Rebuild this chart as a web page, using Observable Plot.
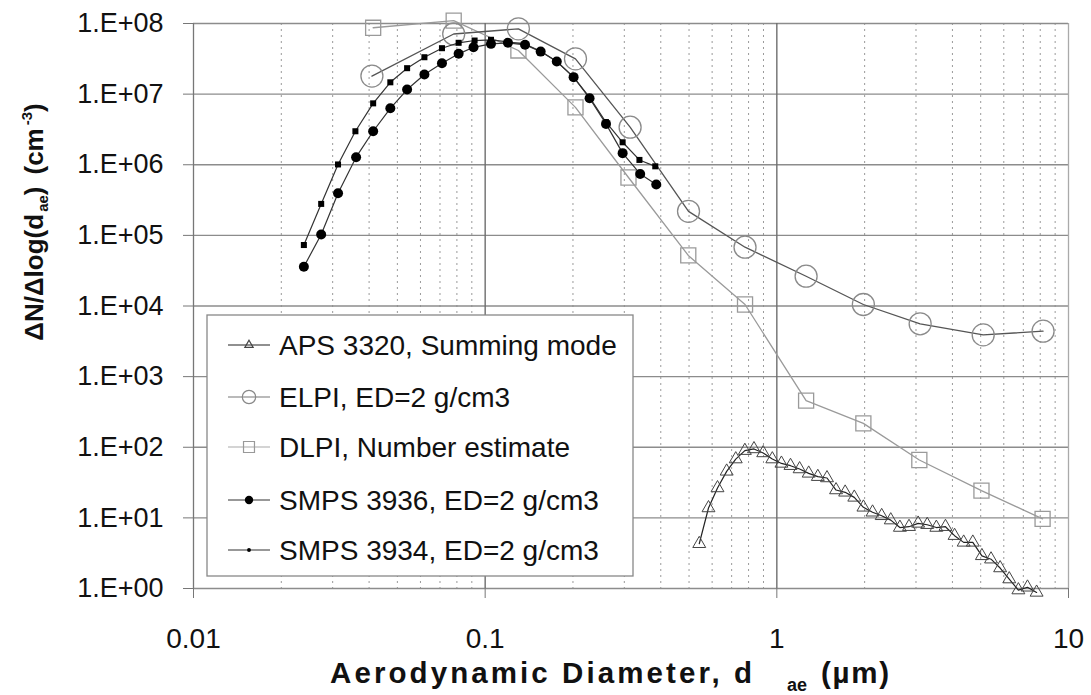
<!DOCTYPE html>
<html>
<head>
<meta charset="utf-8">
<script src="https://cdn.jsdelivr.net/npm/d3@7"></script>
<script src="https://cdn.jsdelivr.net/npm/@observablehq/plot@0.6"></script>
<style>
  html, body { margin: 0; padding: 0; background: white; }
  #chart { position: relative; width: 1091px; height: 695px; }
</style>
</head>
<body>
<div id="chart"></div>
<script>
// ---- Data ----
const apsX = [0.542, 0.583, 0.626, 0.673, 0.723, 0.777, 0.835, 0.898, 0.965, 1.037, 1.114, 1.197, 1.286, 1.382, 1.486, 1.596, 1.715, 1.843, 1.981, 2.129, 2.288, 2.458, 2.642, 2.839, 3.051, 3.278, 3.523, 3.786, 4.068, 4.371, 4.698, 5.048, 5.425, 5.829, 6.264, 6.732, 7.234, 7.774];
const apsY = [4.3, 13.8, 26.5, 45.6, 68, 89.5, 94.6, 83, 68, 59, 54.8, 49.2, 42.7, 38.3, 36.7, 24.8, 23, 19.5, 14.1, 12.0, 10.7, 9.3, 7.3, 7.5, 8.35, 8.0, 7.3, 7.5, 5.6, 4.5, 4.5, 2.9, 2.6, 1.95, 1.36, 0.95, 1.04, 0.88];

const elpiX = [0.0409, 0.078, 0.130, 0.204, 0.314, 0.498, 0.778, 1.26, 1.98, 3.10, 5.10, 8.18];
const elpiY = [1.8e7, 7.1e7, 8.4e7, 3.16e7, 3.4e6, 2.19e5, 6.8e4, 2.64e4, 1.05e4, 5.6e3, 3.9e3, 4.4e3];

const dlpiX = [0.0413, 0.078, 0.130, 0.204, 0.310, 0.497, 0.778, 1.26, 1.98, 3.08, 5.03, 8.15];
const dlpiY = [8.7e7, 1.1e8, 4.15e7, 6.5e6, 6.6e5, 5.2e4, 1.05e4, 457, 218, 66, 24.3, 9.7];

const smps3936X = [0.0239, 0.0274, 0.0313, 0.0361, 0.0413, 0.0473, 0.054, 0.0619, 0.0711, 0.0811, 0.0912, 0.1047, 0.1197, 0.137, 0.155, 0.176, 0.201, 0.228, 0.2596, 0.296, 0.34, 0.386];
const smps3936Y = [3.6e4, 1.03e5, 3.95e5, 1.28e6, 2.98e6, 6.3e6, 1.16e7, 1.9e7, 2.74e7, 3.72e7, 4.6e7, 5.15e7, 5.33e7, 4.99e7, 4.0e7, 2.9e7, 1.74e7, 8.75e6, 3.79e6, 1.46e6, 7.4e5, 5.25e5];

const smps3934X = [0.0239, 0.0274, 0.0313, 0.0359, 0.0413, 0.0473, 0.054, 0.0619, 0.0711, 0.0811, 0.092, 0.1047, 0.1197, 0.137, 0.155, 0.176, 0.201, 0.228, 0.2596, 0.296, 0.338, 0.383];
const smps3934Y = [7.3e4, 2.79e5, 1.01e6, 2.98e6, 7.4e6, 1.47e7, 2.33e7, 3.33e7, 4.47e7, 5.33e7, 5.74e7, 5.88e7, 5.5e7, 5.1e7, 4.05e7, 2.9e7, 1.74e7, 9.0e6, 4.0e6, 2.08e6, 1.17e6, 9.5e5];

const seriesNames = ["APS 3320, Summing mode", "ELPI, ED=2 g/cm3", "DLPI, Number estimate", "SMPS 3936, ED=2 g/cm3", "SMPS 3934, ED=2 g/cm3"];

const xTicks = [0.01, 0.1, 1, 10];
const xTickLabels = ["0.01", "0.1", "1", "10"];
const yTicks = [1, 10, 100, 1e3, 1e4, 1e5, 1e6, 1e7, 1e8];
const yTickLabels = ["1.E+00", "1.E+01", "1.E+02", "1.E+03", "1.E+04", "1.E+05", "1.E+06", "1.E+07", "1.E+08"];
const xMinor = [0.02,0.03,0.04,0.05,0.06,0.07,0.08,0.09, 0.2,0.3,0.4,0.5,0.6,0.7,0.8,0.9, 2,3,4,5,6,7,8,9];

// ---- build tables ----
const toRows = (xs, ys) => xs.map((x, i) => ({x, y: ys[i]}));
const aps = toRows(apsX, apsY);
const elpi = toRows(elpiX, elpiY);
const dlpi = toRows(dlpiX, dlpiY);
const s36 = toRows(smps3936X, smps3936Y);
const s34 = toRows(smps3934X, smps3934Y);

const FONT = "'Liberation Sans', Arial, Helvetica, sans-serif";

const plot = Plot.plot({
  width: 1091,
  height: 695,
  marginLeft: 193,
  marginRight: 23,
  marginTop: 23,
  marginBottom: 107,
  style: {fontFamily: FONT, background: "white", color: "black", overflow: "visible"},
  x: {type: "log", domain: [0.01, 10], label: null},
  y: {type: "log", domain: [1, 1e8], label: null},
  marks: [
    Plot.ruleX(xMinor, {stroke: "#9a9a9a", strokeWidth: 1, strokeDasharray: "2,4"}),
    Plot.ruleY(yTicks, {stroke: "#8c8c8c", strokeWidth: 1.3}),
    Plot.ruleX([0.1, 1], {stroke: "#6e6e6e", strokeWidth: 1.4}),
    Plot.ruleX([0.01], {stroke: "#777", strokeWidth: 1.3}),
    Plot.ruleX([10], {stroke: "#aaa", strokeWidth: 1.3}),
    Plot.axisX(xTicks, {
      tickFormat: d => xTickLabels[xTicks.indexOf(d)],
      tickSize: 10, tickPadding: 30, fontSize: 28, stroke: "#777", fill: "#111", label: null
    }),
    Plot.axisY(yTicks, {
      tickFormat: d => yTickLabels[yTicks.indexOf(d)],
      tickSize: 10, tickPadding: 20, fontSize: 27, stroke: "#777", fill: "#111", label: null
    }),
    // DLPI
    Plot.line(dlpi, {x: "x", y: "y", stroke: "#9a9a9a", strokeWidth: 1.3}),
    Plot.dot(dlpi, {x: "x", y: "y", symbol: "square", r: 8.5, stroke: "#9a9a9a", fill: "none", strokeWidth: 1.3}),
    // ELPI
    Plot.line(elpi, {x: "x", y: "y", stroke: "#555", strokeWidth: 1.3}),
    Plot.dot(elpi, {x: "x", y: "y", symbol: "circle", r: 11, stroke: "#8a8a8a", fill: "none", strokeWidth: 1.3}),
    // APS
    Plot.line(aps, {x: "x", y: "y", stroke: "#222", strokeWidth: 1.2}),
    Plot.dot(aps, {x: "x", y: "y", symbol: "triangle", r: 4.8, stroke: "#444", fill: "none", strokeWidth: 1}),
    // SMPS 3934
    Plot.line(s34, {x: "x", y: "y", stroke: "#333", strokeWidth: 1.2}),
    Plot.dot(s34, {x: "x", y: "y", symbol: "square", r: 3.4, fill: "#000", stroke: "none"}),
    // SMPS 3936
    Plot.line(s36, {x: "x", y: "y", stroke: "#333", strokeWidth: 1.2}),
    Plot.dot(s36, {x: "x", y: "y", symbol: "circle", r: 5, fill: "#000", stroke: "none"})
  ]
});

document.getElementById("chart").appendChild(plot);

// ---- legend, axis titles ----
const svg = d3.select(plot);
const lg = svg.append("g").attr("text-anchor", "start");
lg.append("rect")
  .attr("x", 207).attr("y", 315).attr("width", 426).attr("height", 261)
  .attr("fill", "white").attr("stroke", "#888").attr("stroke-width", 1.3);

const rowsY = [345, 397, 447, 500, 550];
const legendStyle = [
  {line: "#222", type: d3.symbolTriangle, size: 30, fill: "none", stroke: "#444"},
  {line: "#777", type: d3.symbolCircle, size: 140, fill: "none", stroke: "#888"},
  {line: "#aaa", type: d3.symbolSquare, size: 120, fill: "none", stroke: "#999"},
  {line: "#333", type: d3.symbolCircle, size: 55, fill: "#000", stroke: "none"},
  {line: "#333", type: d3.symbolCircle, size: 12, fill: "#000", stroke: "none"}
];
seriesNames.forEach((name, i) => {
  const cy = rowsY[i], st = legendStyle[i];
  lg.append("line").attr("x1", 228).attr("x2", 270).attr("y1", cy).attr("y2", cy)
    .attr("stroke", st.line).attr("stroke-width", 1.2);
  lg.append("path").attr("d", d3.symbol().type(st.type).size(st.size)())
    .attr("transform", `translate(249,${cy})`)
    .attr("fill", st.fill).attr("stroke", st.stroke).attr("stroke-width", 1.2);
  lg.append("text").attr("x", 279).attr("y", cy + 10).attr("text-anchor", "start")
    .attr("font-size", 28).attr("font-family", FONT).attr("fill", "#111")
    .text(name);
});

// x title
const xt = svg.append("g").attr("font-family", FONT).attr("font-weight", "bold")
  .attr("fill", "#111").attr("text-anchor", "start");
xt.append("text").attr("x", 330).attr("y", 683).attr("font-size", 29.5)
  .attr("textLength", 422).attr("lengthAdjust", "spacing")
  .text("Aerodynamic Diameter, d");
xt.append("text").attr("x", 787).attr("y", 691).attr("font-size", 18).text("ae");
xt.append("text").attr("x", 821).attr("y", 683).attr("font-size", 29.5)
  .attr("textLength", 68).attr("lengthAdjust", "spacing").text("(µm)");

// y title
const yt = svg.append("text")
  .attr("transform", "translate(43,222) rotate(-90)")
  .attr("text-anchor", "middle")
  .attr("font-family", FONT).attr("font-weight", "bold").attr("font-size", 26).attr("fill", "#111");
yt.append("tspan").text("ΔN/Δlog(d");
yt.append("tspan").attr("font-size", 15).attr("dy", 5).attr("dx", 2).text("ae");
yt.append("tspan").attr("dy", -5).text(")");
yt.append("tspan").attr("dx", 12).text("(cm");
yt.append("tspan").attr("font-size", 15).attr("dy", -11).attr("dx", 3).text("-3");
yt.append("tspan").attr("dy", 11).text(")");
</script>
</body>
</html>
